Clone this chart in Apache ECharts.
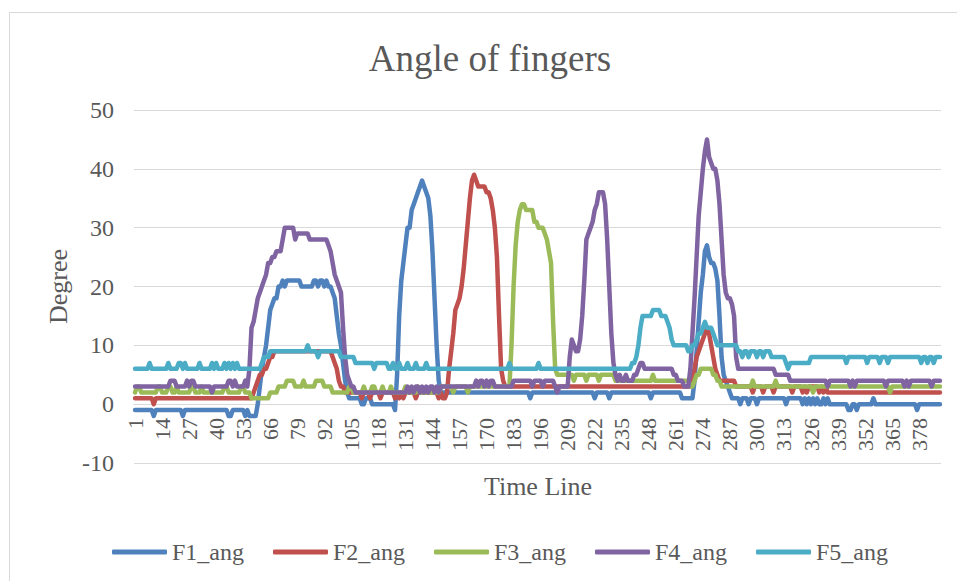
<!DOCTYPE html>
<html><head><meta charset="utf-8">
<script src="https://cdn.jsdelivr.net/npm/echarts@6/dist/echarts.min.js"></script>
<style>html,body{margin:0;padding:0;background:#fff}#c{width:957px;height:581px}</style>
</head><body><div id="c"></div>
<script>
const categories = Array.from({length: 388}, (_, i) => String(i + 1));
const yTicks = [-10, 0, 10, 20, 30, 40, 50];
const seriesNames = ['F1_ang', 'F2_ang', 'F3_ang', 'F4_ang', 'F5_ang'];
const seriesColors = ['#4F81BD', '#C0504D', '#9BBB59', '#8064A2', '#4BACC6'];

const F1_ang = [
-1,-1,-1,-1,-1,-1,-1,-1,-1,-2,
-1,-1,-1,-1,-1,-1,-1,-1,-1,-1,
-1,-1,-1,-2,-1,-1,-1,-1,-1,-1,
-1,-1,-1,-1,-1,-1,-1,-1,-1,-1,
-1,-1,-1,-1,-1,-2,-2,-1,-1,-1,
-1,-1,-1,-2,-1,-2,-2,-2,-2,0,
3,6,8,10,13,16,17,18,18,20,
20,21,20,21,21,21,21,21,21,21,
20,20,20,20,20,20,21,21,20,21,
21,20,21,20,20,19,18,15,12,10,
7,4,2,1,1,1,1,1,1,0,
0,1,1,1,0,0,0,0,0,0,
0,0,0,0,0,-1,5,15,21,24,
27,30,30,33,34,35,36,37,38,37,
36,35,32,26,18,10,4,2,2,2,
2,2,2,2,2,2,2,2,2,2,
2,2,2,2,2,2,2,2,2,2,
2,2,2,2,2,2,2,2,2,2,
2,2,2,2,2,2,2,2,2,2,
1,2,2,2,2,2,2,2,2,2,
2,2,2,2,2,2,2,2,2,2,
2,2,2,2,2,2,2,2,2,2,
2,1,2,2,2,2,2,2,1,2,
2,2,2,2,2,2,2,2,2,2,
2,2,2,2,2,2,2,2,1,2,
2,2,2,2,2,2,2,2,2,2,
2,2,2,1,1,1,1,1,1,4,
9,14,19,22,26,27,25,24,24,23,
21,15,8,5,4,3,2,1,1,1,
1,0,1,1,1,0,1,1,1,0,
1,1,1,1,1,1,1,1,1,1,
1,1,1,0,1,1,1,1,1,1,
1,0,1,0,1,0,1,0,1,0,
0,1,0,1,0,0,0,0,0,0,
0,0,0,-1,-1,0,0,-1,0,0,
0,0,0,0,0,1,0,0,0,0,
0,0,0,0,0,0,0,0,0,0,
0,0,0,0,0,0,-1,0,0,0,
0,0,0,0,0,0,0,0
];

const F2_ang = [
1,1,1,1,1,1,1,1,1,0,
1,1,1,1,1,1,1,1,1,1,
1,1,1,1,1,1,1,1,1,1,
1,1,1,1,1,1,1,1,1,1,
1,1,1,1,1,1,1,1,1,1,
1,1,1,1,1,1,1,2,3,4,
5,5,6,6,7,8,8,9,9,9,
9,9,9,9,9,9,9,9,9,9,
9,9,9,9,9,9,9,9,9,9,
9,9,9,9,9,8,7,6,4,3,
3,2,2,2,2,2,2,2,2,1,
2,2,2,1,2,2,2,2,1,2,
2,2,2,2,2,1,2,1,2,1,
2,2,2,2,2,1,2,2,2,2,
2,2,2,2,2,2,1,2,1,1,
2,6,9,12,16,17,18,20,23,27,
31,35,38,39,38,37,37,37,37,36,
36,35,33,30,25,15,6,4,3,3,
3,3,3,3,3,3,3,3,3,3,
3,3,3,3,3,3,3,3,3,3,
3,3,3,3,3,3,3,3,3,3,
3,3,3,3,3,3,3,3,3,3,
3,3,3,3,3,3,3,3,3,3,
3,3,3,3,3,3,3,3,3,3,
3,3,3,3,3,3,3,3,3,3,
3,3,3,3,3,3,3,3,3,3,
3,3,3,3,3,3,3,3,4,6,
8,9,10,11,12,13,12,10,8,6,
5,4,4,4,4,4,4,4,4,3,
3,3,3,3,3,3,3,2,3,3,
3,3,2,3,3,3,3,2,3,3,
3,3,3,3,3,3,2,3,3,3,
3,2,3,2,3,3,3,3,3,2,
3,2,3,2,2,2,2,2,2,2,
2,2,2,2,2,2,2,2,2,2,
2,2,2,2,2,2,2,2,2,2,
2,2,2,2,2,2,2,2,2,2,
2,2,2,2,2,2,2,2,2,2,
2,2,2,2,2,2,2,2
];

const F3_ang = [
2,3,3,2,2,2,2,2,2,2,
2,3,3,2,2,2,3,3,2,2,
3,2,2,2,2,2,2,3,3,2,
2,2,3,2,2,2,2,2,2,2,
2,2,2,3,3,2,2,2,2,2,
2,3,3,2,2,2,1,1,1,1,
1,1,1,1,1,2,2,2,2,3,
3,3,3,4,4,4,4,3,3,3,
3,4,3,3,3,3,3,4,4,4,
4,3,3,3,3,2,2,2,2,2,
2,2,2,3,3,2,2,2,2,2,
3,2,2,2,3,3,2,2,2,3,
2,2,2,3,2,2,2,2,2,2,
3,2,2,2,2,2,3,2,2,2,
2,2,2,2,2,2,2,3,3,3,
3,3,3,2,3,3,3,3,3,3,
2,3,3,3,3,3,3,3,3,3,
3,3,3,3,3,3,3,3,3,3,
3,10,20,27,31,33,34,34,33,33,
33,33,31,31,30,30,30,29,28,26,
24,14,6,5,5,5,5,5,5,5,
5,4,5,5,5,5,5,4,5,5,
5,5,5,4,5,5,5,5,5,5,
5,4,4,4,4,4,4,4,4,4,
4,4,4,4,4,4,4,4,4,5,
4,4,4,4,4,4,4,4,4,4,
4,4,4,4,4,4,4,3,3,4,
5,5,6,6,6,6,6,6,5,5,
4,4,3,3,3,3,3,3,3,3,
3,3,3,3,3,3,3,4,3,3,
3,3,3,3,3,3,3,3,4,3,
3,3,3,3,3,3,3,3,3,3,
3,3,3,3,3,3,2,3,3,3,
3,3,3,3,3,3,3,3,3,3,
3,3,3,3,3,3,3,3,3,3,
3,3,3,3,3,3,3,3,3,3,
3,3,3,2,3,3,3,3,3,3,
3,3,3,3,3,3,3,3,3,3,
3,3,3,3,3,3,3,3
];

const F4_ang = [
3,3,3,3,3,3,3,3,3,3,
3,3,3,3,3,3,3,4,4,4,
3,3,3,3,3,4,3,4,4,3,
3,3,3,3,3,3,3,2,3,3,
3,3,3,3,3,4,4,3,4,3,
3,3,3,4,3,6,13,14,16,18,
19,20,21,22,24,24,25,25,26,26,
26,28,30,30,30,30,30,28,29,29,
29,29,29,29,28,28,28,28,28,28,
28,28,28,27,26,24,22,21,20,19,
13,8,5,4,3,3,2,2,2,2,
2,2,2,2,2,2,2,2,2,2,
2,2,2,2,2,2,2,2,2,2,
2,3,2,3,2,3,3,2,3,2,
3,2,3,3,2,3,2,3,3,3,
3,3,3,3,3,3,3,3,3,3,
3,3,3,3,4,3,4,4,3,4,
3,4,4,3,3,3,3,3,3,3,
3,3,4,4,4,4,4,4,4,4,
4,3,4,4,4,4,3,4,4,4,
4,4,3,2,3,3,3,3,3,8,
11,10,9,9,11,15,21,28,29,30,
31,33,34,36,36,36,34,28,20,12,
7,5,4,5,4,4,5,4,4,4,
5,5,6,7,7,6,6,6,6,6,
6,6,6,6,6,6,6,6,6,5,
5,4,4,4,3,3,3,6,12,18,
25,32,36,40,43,45,42,41,40,40,
38,34,28,22,19,18,18,17,15,8,
6,6,6,6,6,6,6,6,6,6,
6,6,6,6,6,6,6,6,5,5,
5,5,5,5,5,4,4,4,4,4,
4,4,4,4,4,4,4,4,4,4,
4,4,4,3,4,4,4,4,4,4,
4,4,4,4,3,4,3,4,4,4,
4,4,4,4,4,4,4,4,4,4,
4,3,4,4,4,4,4,4,4,4,
3,4,3,4,4,4,4,4,4,4,
4,4,4,3,4,4,4,4
];

const F5_ang = [
6,6,6,6,6,6,6,7,6,6,
6,6,6,6,6,6,7,6,6,6,
6,7,7,6,7,6,6,6,6,6,
6,7,6,6,6,6,6,7,6,7,
6,6,6,7,6,7,6,7,6,7,
6,6,6,6,6,6,6,6,6,6,
6,7,8,8,8,9,9,9,9,9,
9,9,9,9,9,9,9,9,9,9,
9,9,9,10,9,9,9,9,8,9,
9,9,9,9,9,9,9,9,9,8,
8,8,8,8,8,8,7,7,7,7,
7,7,7,7,7,6,7,7,7,7,
7,7,6,6,7,6,6,7,6,6,
6,7,6,6,6,7,6,6,6,6,
7,6,6,6,6,6,6,6,6,6,
6,6,6,6,6,6,6,6,6,6,
6,6,6,6,6,6,6,6,6,6,
6,6,6,6,6,6,6,6,6,6,
7,6,6,6,6,6,6,6,6,6,
6,6,6,6,7,6,6,6,6,6,
6,6,6,6,6,6,6,6,6,6,
6,6,6,6,6,6,6,6,6,6,
6,6,6,6,6,6,6,6,6,6,
6,6,6,6,6,6,6,6,6,7,
7,8,10,13,15,15,15,15,15,16,
16,16,16,15,15,15,14,13,11,10,
10,10,10,10,10,10,9,9,10,10,
11,12,12,13,14,13,13,13,12,11,
10,10,10,10,10,10,10,10,10,10,
9,9,8,9,9,8,9,9,9,8,
9,9,8,9,9,9,8,8,8,8,
8,8,8,7,6,7,7,7,7,7,
7,7,7,7,7,8,8,8,8,8,
8,8,8,8,8,8,8,8,8,8,
8,8,7,8,8,8,8,8,8,8,
8,8,7,8,8,8,8,8,7,8,
8,8,7,8,8,8,8,8,8,8,
8,8,8,8,8,8,8,8,7,8,
8,7,8,8,7,8,8,8
];

const seriesData = [F1_ang, F2_ang, F3_ang, F4_ang, F5_ang];
const FONT = 'Liberation Serif, serif';
const TXT = '#595959';

const chart = echarts.init(document.getElementById('c'), null, {renderer: 'svg'});
chart.setOption({
  animation: false,
  backgroundColor: '#fff',
  textStyle: {fontFamily: FONT},
  grid: {left: 134, right: 16, top: 110, bottom: 118, containLabel: false},
  graphic: [
    {type: 'rect', silent: true, shape: {x: 9.5, y: 12.5, width: 960, height: 600},
     style: {fill: 'none', stroke: '#d9d9d9', lineWidth: 1}},
    {type: 'text', x: 490, y: 58, silent: true,
     style: {text: 'Angle of fingers', fontFamily: FONT, fontSize: 37, fill: TXT,
             align: 'center', verticalAlign: 'middle', textAlign: 'center', textVerticalAlign: 'middle'}},
    {type: 'text', x: 538, y: 486, silent: true,
     style: {text: 'Time Line', fontFamily: FONT, fontSize: 26, fill: TXT,
             align: 'center', verticalAlign: 'middle', textAlign: 'center', textVerticalAlign: 'middle'}}
  ],
  legend: {
    data: seriesNames, left: 107, top: 535, icon: 'roundRect', itemWidth: 55, itemHeight: 5,
    itemGap: 29, textStyle: {fontFamily: FONT, fontSize: 24, color: TXT}
  },
  xAxis: {
    type: 'category', data: categories, boundaryGap: true, position: 'bottom', offset: -59,
    axisLine: {onZero: false, lineStyle: {color: '#d9d9d9', width: 1}},
    axisTick: {show: false},
    axisLabel: {interval: 12, rotate: 90, margin: 14, fontFamily: FONT, fontSize: 22, color: TXT},
    splitLine: {show: false}
  },
  yAxis: {
    type: 'value', min: yTicks[0], max: yTicks[yTicks.length - 1], interval: yTicks[1] - yTicks[0],
    name: 'Degree', nameLocation: 'middle', nameGap: 62,
    nameTextStyle: {fontFamily: FONT, fontSize: 26, color: TXT},
    axisLine: {show: false}, axisTick: {show: false},
    axisLabel: {margin: 20, fontFamily: FONT, fontSize: 24, color: TXT},
    splitLine: {lineStyle: {color: '#d9d9d9', width: 1}}
  },
  series: seriesNames.map((n, i) => ({
    name: n, type: 'line', data: seriesData[i], symbol: 'none', showSymbol: false,
    color: seriesColors[i],
    lineStyle: {width: 4.5, color: seriesColors[i], cap: 'round', join: 'round'},
    emphasis: {disabled: true}
  }))
});
</script></body></html>
